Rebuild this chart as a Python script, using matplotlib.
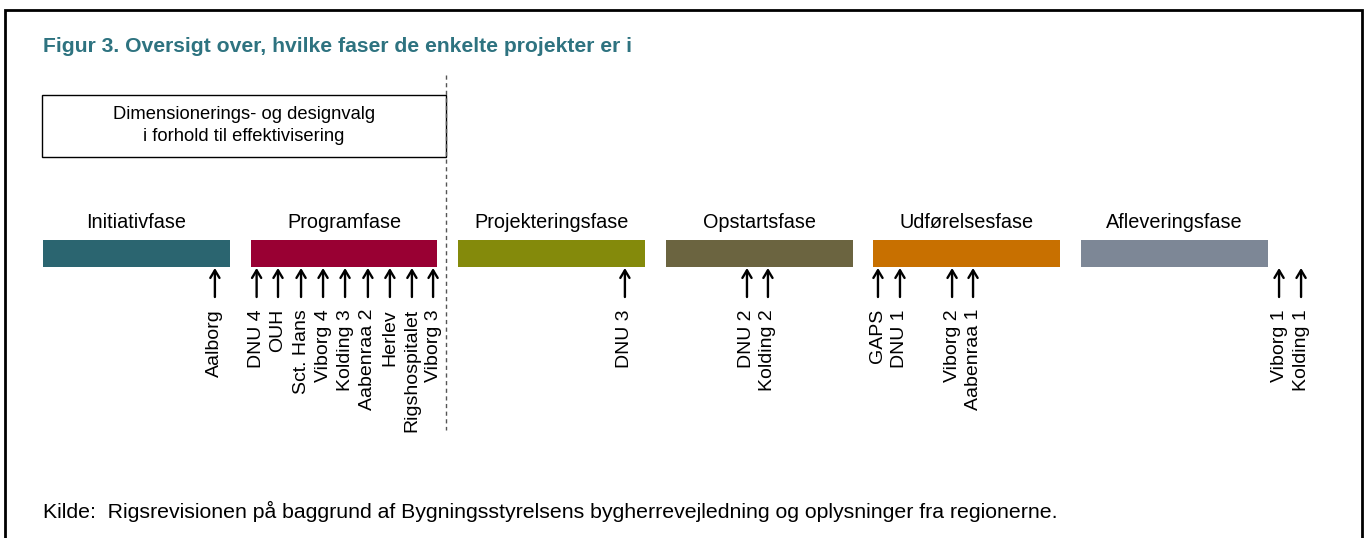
# plot.py
# Figur 3: oversigt over projekternes faser (tidslinje med pile)

import matplotlib.pyplot as plt
from matplotlib.patches import Rectangle

plt.rcParams['font.family'] = ['Liberation Sans', 'DejaVu Sans']

W, H = 1368, 538

phases = ['Initiativfase', 'Programfase', 'Projekteringsfase',
          'Opstartsfase', 'Udførelsesfase', 'Afleveringsfase']
phase_colors = ['#2b6570', '#990033', '#848a0b', '#6b6440', '#c87000', '#7d8796']

# projekternes placering i fase-enheder (fase i starter ved i)
projects = ['Aalborg',
            'DNU 4', 'OUH', 'Sct. Hans', 'Viborg 4', 'Kolding 3', 'Aabenraa 2',
            'Herlev', 'Rigshospitalet', 'Viborg 3',
            'DNU 3',
            'DNU 2', 'Kolding 2',
            'GAPS', 'DNU 1', 'Viborg 2', 'Aabenraa 1',
            'Viborg 1', 'Kolding 1']
positions = [0.828,
             1.029, 1.132, 1.243, 1.349, 1.455, 1.565, 1.671, 1.777, 1.879,
             2.803,
             3.391, 3.492,
             4.022, 4.128, 4.379, 4.480,
             5.954, 6.060]

title = 'Figur 3. Oversigt over, hvilke faser de enkelte projekter er i'
box_text = 'Dimensionerings- og designvalg\ni forhold til effektivisering'
source = 'Kilde:  Rigsrevisionen på baggrund af Bygningsstyrelsens bygherrevejledning og oplysninger fra regionerne.'

x0, step = 43, 207.6   # pixel of phase 0 start, pixels per phase
bar_w = 0.9

fig = plt.figure(figsize=(W / 100, H / 100), dpi=100)
ax = fig.add_axes([0, 0, 1, 1])
ax.set_xlim(-x0 / step, (W - x0) / step)
ax.set_ylim(H, 0)
ax.axis('off')

# outer frame
fig.patches.append(Rectangle((5 / W, -0.05), (1362 - 5) / W, 1.05 - 10 / H,
                             transform=fig.transFigure, fill=False,
                             edgecolor='black', linewidth=2))

ax.text(-0.0, 46, title, color='#2e7380', fontsize=15.25, fontweight='bold',
        ha='left', va='center')

# box around first two phases + dashed divider
ax.add_patch(Rectangle((-1 / step, 95), (446 - 42) / step, 62, fill=False,
                       edgecolor='black', linewidth=1.0))
ax.text((244 - x0) / step, 125.5, box_text, ha='center', va='center',
        fontsize=13.2, linespacing=1.35)
ax.plot([(446 - x0) / step] * 2, [75, 430], color='#555555',
        linestyle=(0, (3, 2.5)), linewidth=1)

# phase bars
for i, (name, col) in enumerate(zip(phases, phase_colors)):
    ax.bar(i, 26.5, width=bar_w, bottom=240, align='edge', color=col)
    ax.text(i + bar_w / 2, 222, name, ha='center', va='center', fontsize=14.3)

# arrows and project labels
for name, p in zip(projects, positions):
    ax.annotate('', xy=(p, 268), xytext=(p, 297),
                arrowprops=dict(arrowstyle='->,head_length=0.55,head_width=0.33',
                                color='black', lw=1.7, shrinkA=0, shrinkB=0))
    ax.text(p, 309, name, rotation=90, ha='center', va='top', fontsize=14)

ax.text(0, 511, source, ha='left', va='center', fontsize=15.3)

fig.savefig('out.png', dpi=100)
